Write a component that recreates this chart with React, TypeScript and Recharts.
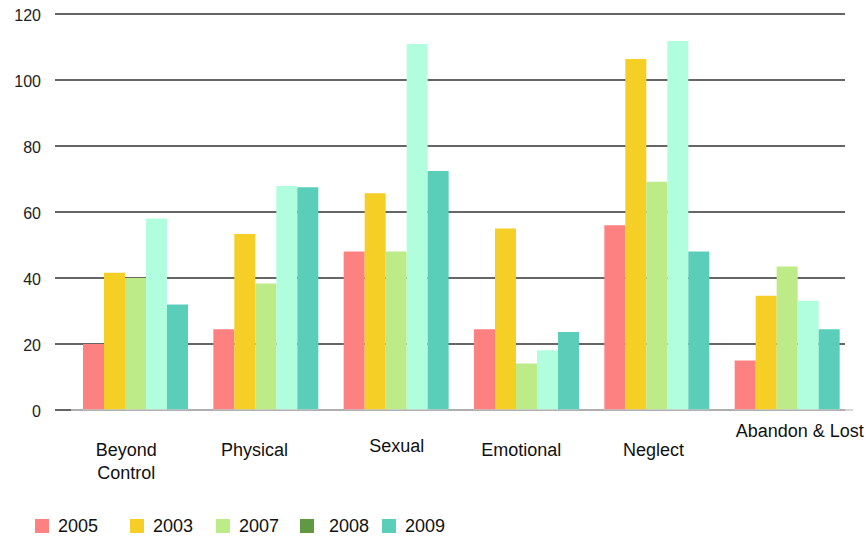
import { Bar, BarChart, CartesianGrid, XAxis, YAxis } from "recharts";

const categories = ["Beyond Control", "Physical", "Sexual", "Emotional", "Neglect", "Abandon & Lost"];

const v2005 = [20, 24.5, 48, 24.5, 56, 15];
const v2003 = [41.6, 53.3, 65.7, 55, 106.4, 34.6];
const v2007 = [40, 38.3, 48, 14.1, 69.2, 43.5];
const v2008 = [58, 67.9, 110.9, 18.1, 111.8, 33.1];
const v2009 = [32, 67.5, 72.4, 23.6, 48, 24.5];

const yTicks = [0, 20, 40, 60, 80, 100, 120];

const SERIES = [
	{ key: "2005", values: v2005, fill: "#fe8182", legend: "#fe8182" },
	{ key: "2003", values: v2003, fill: "#f5ce26", legend: "#f5ce26" },
	{ key: "2007", values: v2007, fill: "#bceb87", legend: "#bceb87" },
	{ key: "2008", values: v2008, fill: "#b1fede", legend: "#619942" },
	{ key: "2009", values: v2009, fill: "#5aceb9", legend: "#5aceb9" },
];

// legend slots are unevenly spaced in the original
const LEGEND_WIDTHS = [95, 86, 84, 82, 70];

// label nudges so the category names sit where the original had them
const LABEL_NUDGE: Record<string, { dx: number; dy: number }> = {
	"Beyond Control": { dx: -10, dy: 0 },
	Physical: { dx: -12, dy: 0 },
	Sexual: { dx: 0, dy: -4 },
	Emotional: { dx: -6, dy: 0 },
	Neglect: { dx: -4, dy: 0 },
	"Abandon & Lost": { dx: 12, dy: -19 },
};

const FONT = '"Liberation Sans", Arial, Helvetica, sans-serif';

const rows = categories.map((name, i) => {
	const row: Record<string, string | number> = { name };
	SERIES.forEach((s) => {
		row[s.key] = s.values[i];
	});
	return row;
});

function CategoryTick(props: any) {
	const { x, payload } = props;
	const label: string = payload.value;
	const nudge = LABEL_NUDGE[label] ?? { dx: 0, dy: 0 };
	const lines = label === "Beyond Control" ? ["Beyond", "Control"] : [label];
	return (
		<g>
			{lines.map((line, i) => (
				<text
					key={line}
					x={x + nudge.dx}
					y={450 + nudge.dy + i * 23}
					textAnchor="middle"
					dominantBaseline="central"
					fontSize={18}
					fontFamily={FONT}
					fill="#111"
				>
					{line}
				</text>
			))}
		</g>
	);
}

function ValueTick(props: any) {
	const { y, payload } = props;
	return (
		<text x={41} y={y + 1} textAnchor="end" dominantBaseline="central" fontSize={16} fontFamily={FONT} fill="#222">
			{payload.value}
		</text>
	);
}

export default function App() {
	return (
		<div style={{ position: "relative", width: 865, height: 536, background: "#fff", fontFamily: FONT }}>
			<style>{"body{margin:0}"}</style>
			<BarChart
				width={865}
				height={536}
				data={rows}
				margin={{ top: 14, right: 12, left: 0, bottom: 0 }}
				barCategoryGap={12}
				barGap={0}
			>
				<CartesianGrid x={55} width={790} vertical={false} stroke="#333" strokeWidth={1.4} />
				<XAxis
					dataKey="name"
					height={126}
					tickLine={false}
					axisLine={{ stroke: "#c8c8c8", strokeWidth: 1.5 }}
					tick={<CategoryTick />}
					interval={0}
				/>
				<YAxis width={71} domain={[0, 120]} ticks={yTicks} axisLine={false} tickLine={false} tick={<ValueTick />} />
				{SERIES.map((s) => (
					<Bar key={s.key} dataKey={s.key} fill={s.fill} isAnimationActive={false} />
				))}
			</BarChart>
			<div style={{ position: "absolute", left: 35, top: 518, display: "flex" }}>
				{SERIES.map((s, i) => (
					<div key={s.key} style={{ width: LEGEND_WIDTHS[i], display: "flex", alignItems: "center" }}>
						<span style={{ width: 14, height: 14, background: s.legend, display: "inline-block" }} />
						<span style={{ marginLeft: s.key === "2008" ? 15 : 9, fontSize: 18, color: "#111", lineHeight: "16px" }}>
							{s.key}
						</span>
					</div>
				))}
			</div>
		</div>
	);
}
